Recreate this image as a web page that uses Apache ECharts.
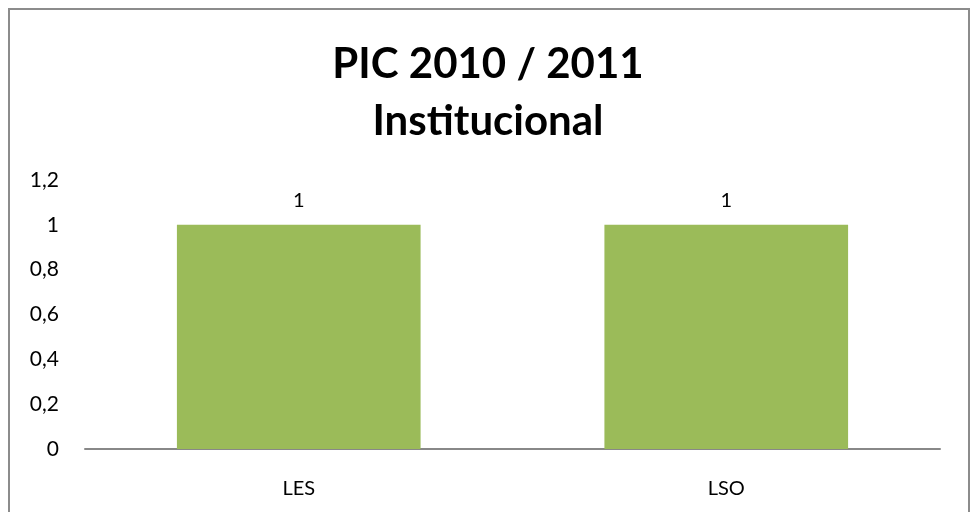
<!DOCTYPE html>
<html>
<head>
<meta charset="utf-8">
<script src="https://cdn.jsdelivr.net/npm/echarts@6/dist/echarts.min.js"></script>
<style>
  html, body { margin: 0; padding: 0; background: #fff; }
  #chart { width: 976px; height: 512px; }
</style>
</head>
<body>
<div id="chart"></div>
<script>
const categories = ["LES", "LSO"];
const values = [1, 1];
const yTicks = [0, 0.2, 0.4, 0.6, 0.8, 1, 1.2];

const chart = echarts.init(document.getElementById("chart"));

/** comma decimal like the original */
function fmt(v) {
  return String(Math.round(v * 10) / 10).replace(".", ",");
}

const option = {
  animation: false,
  textStyle: { fontFamily: "Lato" },
  title: {
    text: "PIC 2010 / 2011\nInstitucional",
    left: "center",
    top: 31,
    textStyle: {
      fontFamily: "Lato",
      fontSize: 42,
      fontWeight: "bold",
      color: "#000",
      lineHeight: 57
    }
  },
  graphic: [
    {
      type: "rect",
      shape: { x: 9, y: 9, width: 960, height: 540 },
      style: { fill: "none", stroke: "#8c8c8c", lineWidth: 2 },
      silent: true
    }
  ],
  grid: { left: 85, right: 36, top: 180, bottom: 63 },
  xAxis: {
    type: "category",
    data: categories,
    axisLine: { lineStyle: { color: "#888", width: 2 } },
    axisTick: { show: false },
    axisLabel: { color: "#000", fontSize: 20, margin: 30 }
  },
  yAxis: {
    type: "value",
    min: yTicks[0],
    max: yTicks[yTicks.length - 1],
    interval: 0.2,
    splitLine: { show: false },
    axisLine: { show: false },
    axisTick: { show: false },
    axisLabel: { color: "#000", fontSize: 21, margin: 26, formatter: fmt }
  },
  series: [
    {
      type: "bar",
      data: values,
      barWidth: "57%",
      itemStyle: { color: "#9bbb59" },
      label: {
        show: true,
        position: "top",
        distance: 14,
        color: "#000",
        fontSize: 20,
        formatter: (p) => fmt(p.value)
      }
    }
  ]
};

chart.setOption(option);
</script>
</body>
</html>
